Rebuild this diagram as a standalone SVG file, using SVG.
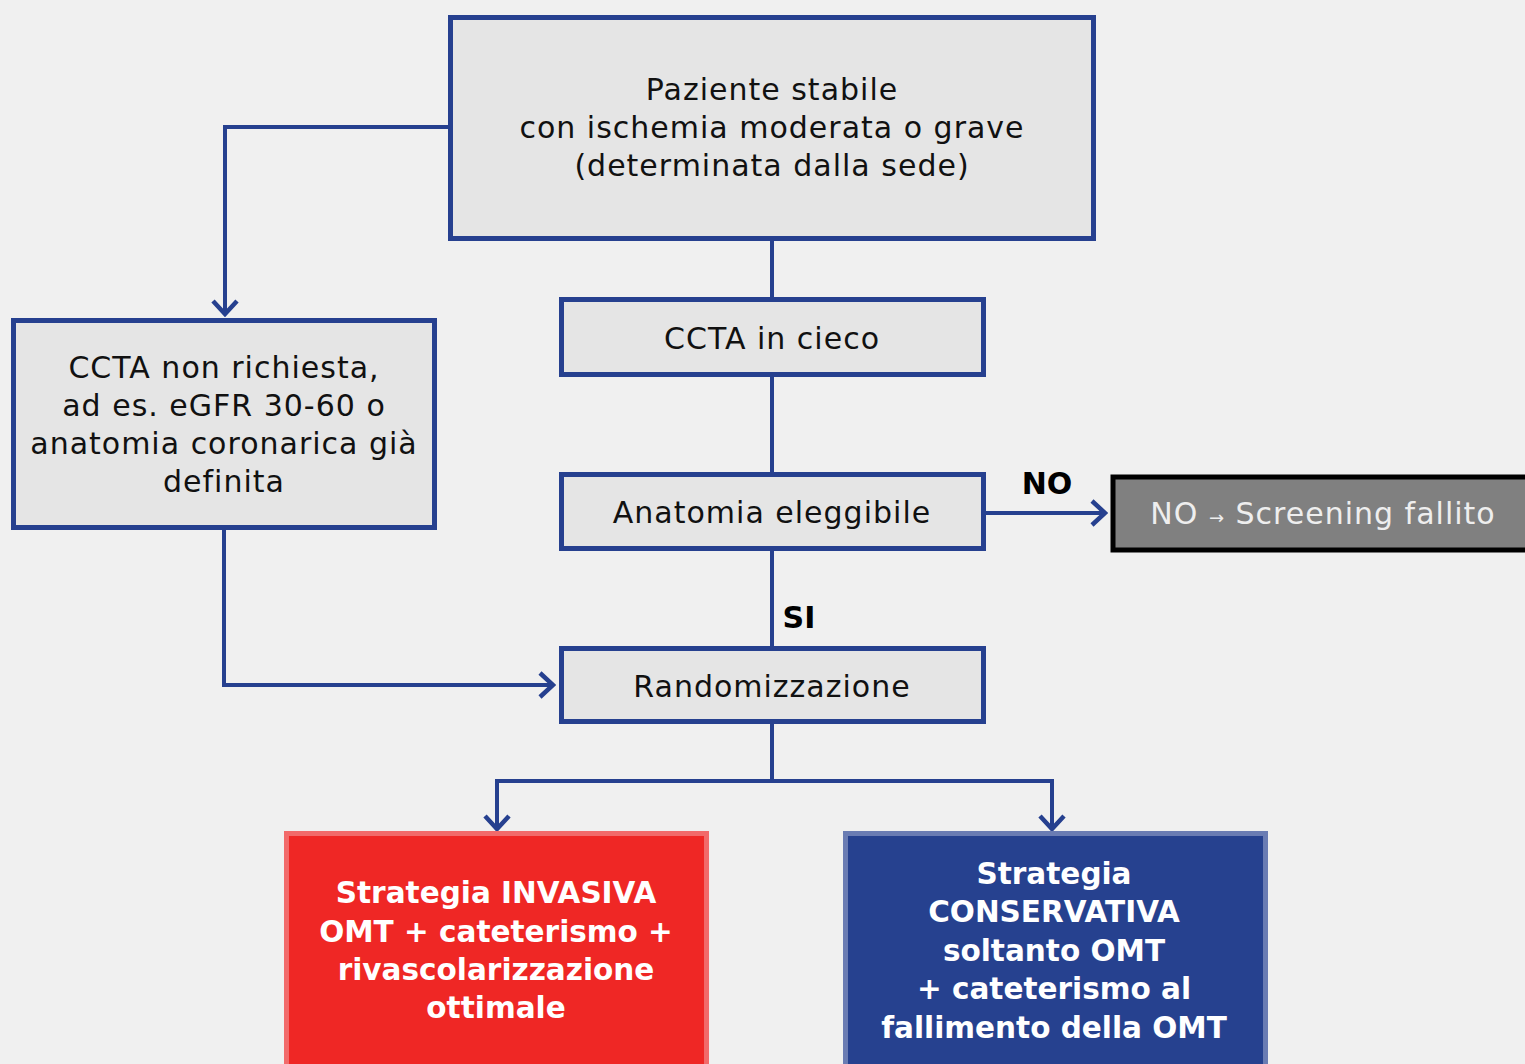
<svg xmlns="http://www.w3.org/2000/svg" width="1525" height="1064" viewBox="0 0 1525 1064">
<defs>
<style>
.bg{fill:#f0f0f0}
.box{fill:#e5e5e5;stroke:#26408f;stroke-width:5}
.t{font-family:"DejaVu Sans","Noto Sans",sans-serif;font-size:30px;letter-spacing:1px;fill:#111;text-anchor:middle}
.tb{font-family:"DejaVu Sans","Noto Sans",sans-serif;font-size:29.5px;font-weight:bold;fill:#fff;text-anchor:middle}
.lbl{font-family:"DejaVu Sans","Noto Sans",sans-serif;font-size:30px;font-weight:bold;fill:#000;text-anchor:middle}
.c{fill:none;stroke:#26408f;stroke-width:4}
</style>
<marker id="ah" viewBox="0 0 20 30" refX="18" refY="15" markerWidth="20" markerHeight="30" markerUnits="userSpaceOnUse" orient="auto">
<path d="M4,3 L17,15 L4,27" fill="none" stroke="#26408f" stroke-width="4.5"/>
</marker>
</defs>
<rect class="bg" x="0" y="0" width="1525" height="1064"/>
<g id="connectors">
<path class="c" d="M450,127 H225 V315" marker-end="url(#ah)"/>
<path class="c" d="M772,239 V299"/>
<path class="c" d="M772,375 V473"/>
<path class="c" d="M772,549 V647"/>
<path class="c" d="M984,513 H1106" marker-end="url(#ah)"/>
<path class="c" d="M224,528 V685 H554" marker-end="url(#ah)"/>
<path class="c" d="M772,722 V781 H497 V830" marker-end="url(#ah)"/>
<path class="c" d="M772,781 H1052 V830" marker-end="url(#ah)"/>
<text class="lbl" x="1047" y="494">NO</text>
<text class="lbl" x="799" y="628">SI</text>
</g>
<g id="start">
<rect class="box" x="450.5" y="17.5" width="643" height="221"/>
<text class="t" x="772" y="100">Paziente stabile</text>
<text class="t" x="772" y="138">con ischemia moderata o grave</text>
<text class="t" x="772" y="176">(determinata dalla sede)</text>
</g>
<g id="ccta">
<rect class="box" x="561.5" y="299.5" width="422" height="75"/>
<text class="t" x="772" y="349">CCTA in cieco</text>
</g>
<g id="anatomia">
<rect class="box" x="561.5" y="474.5" width="422" height="74"/>
<text class="t" x="772" y="523">Anatomia eleggibile</text>
</g>
<g id="random">
<rect class="box" x="561.5" y="648.5" width="422" height="73"/>
<text class="t" x="772" y="697">Randomizzazione</text>
</g>
<g id="noccta">
<rect class="box" x="13.5" y="320.5" width="421" height="207"/>
<text class="t" x="224" y="378">CCTA non richiesta,</text>
<text class="t" x="224" y="416">ad es. eGFR 30-60 o</text>
<text class="t" x="224" y="454">anatomia coronarica già</text>
<text class="t" x="224" y="492">definita</text>
</g>
<g id="fail">
<rect x="1113" y="477" width="420" height="73" fill="#808080" stroke="#000" stroke-width="5"/>
<text class="t" x="1323" y="524" style="fill:#eeeeee">NO <tspan style="font-size:18px">→</tspan> Screening fallito</text>
</g>
<g id="invasiva">
<rect x="286.5" y="833.5" width="420" height="240" fill="#ef2725" stroke="#f26a6a" stroke-width="5"/>
<text class="tb" x="496" y="903">Strategia INVASIVA</text>
<text class="tb" x="496" y="942">OMT + cateterismo +</text>
<text class="tb" x="496" y="980">rivascolarizzazione</text>
<text class="tb" x="496" y="1018">ottimale</text>
</g>
<g id="conservativa">
<rect x="845.5" y="833.5" width="420" height="240" fill="#26418f" stroke="#6a7cb3" stroke-width="5"/>
<text class="tb" x="1054" y="884">Strategia</text>
<text class="tb" x="1054" y="922">CONSERVATIVA</text>
<text class="tb" x="1054" y="961">soltanto OMT</text>
<text class="tb" x="1054" y="999">+ cateterismo al</text>
<text class="tb" x="1054" y="1038">fallimento della OMT</text>
</g>
</svg>
